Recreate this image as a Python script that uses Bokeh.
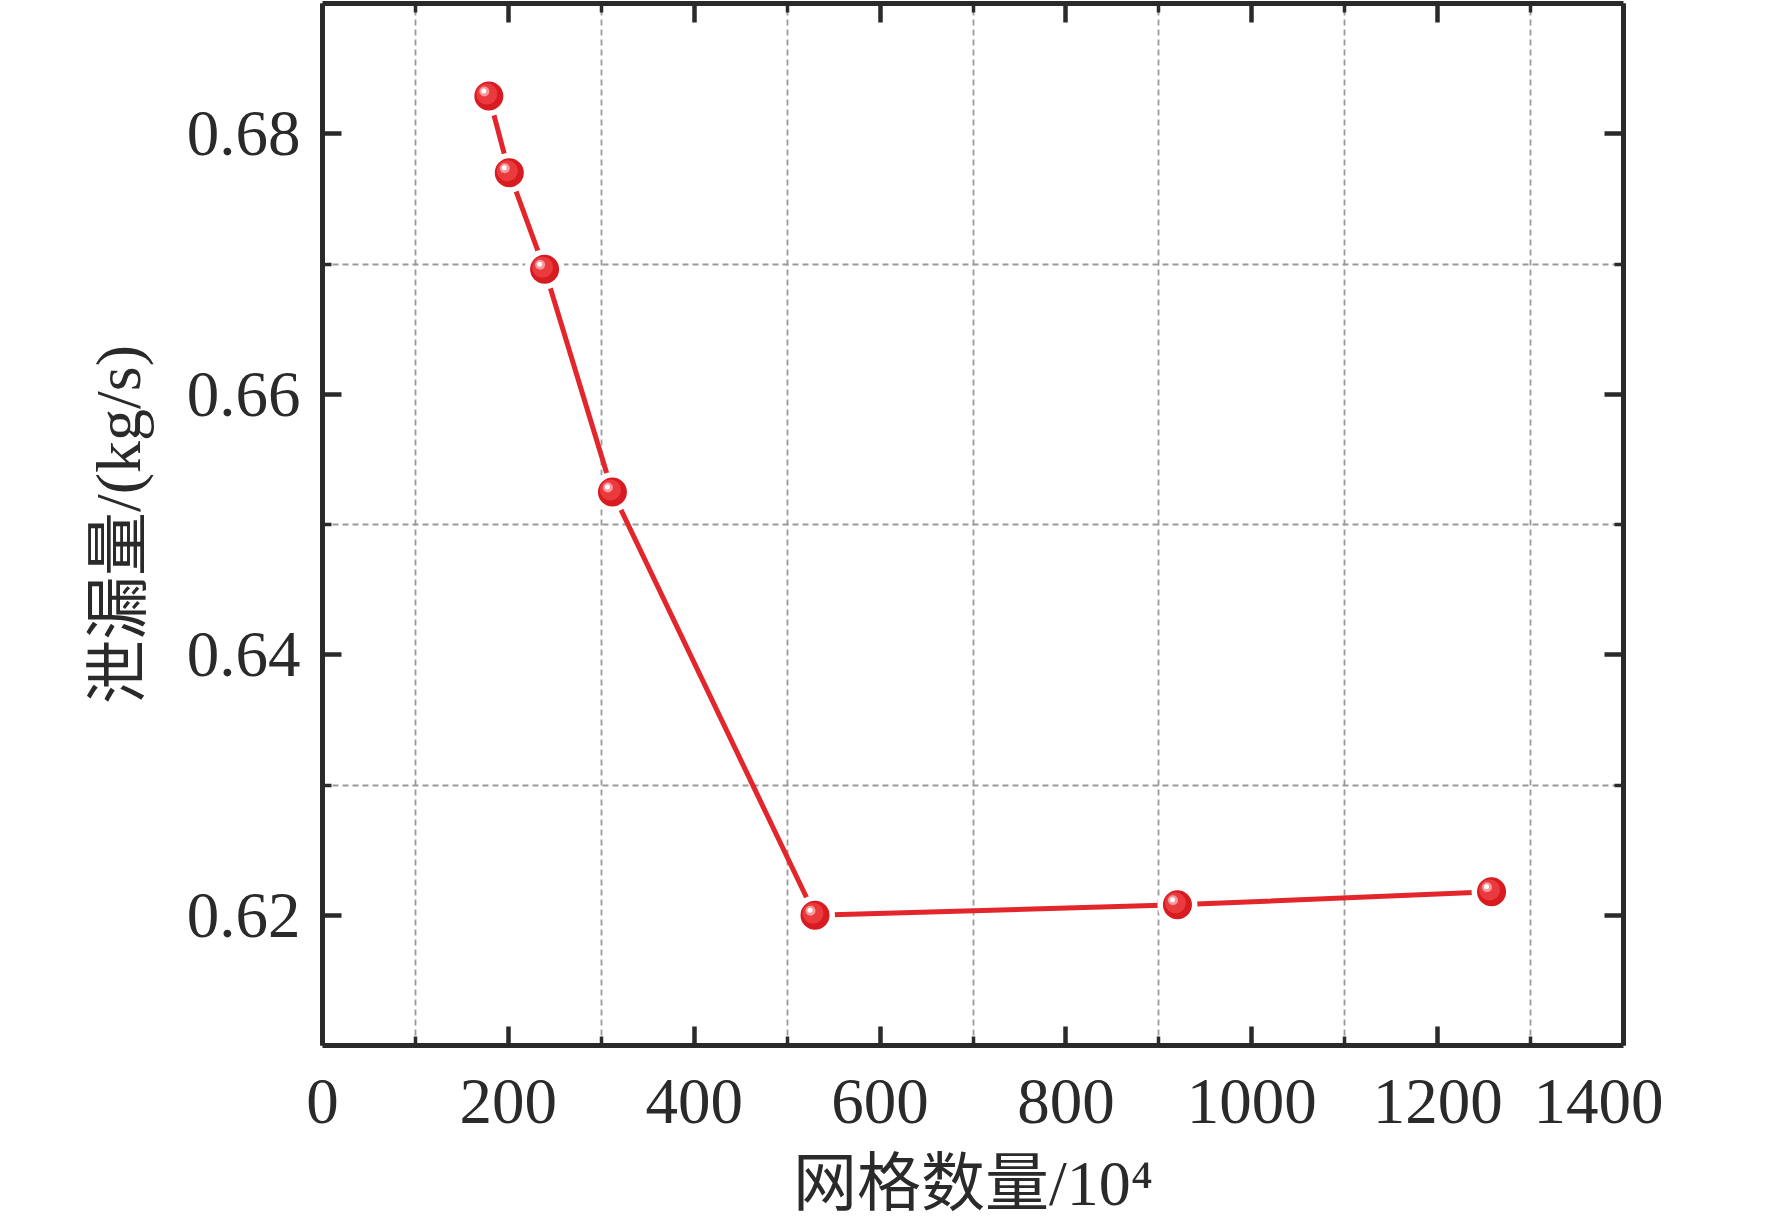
from bokeh.plotting import figure
from bokeh.models import Range1d, FixedTicker, LinearAxis, ColumnDataSource
from bokeh.embed import file_html
from bokeh.resources import INLINE

# ---- data ----
mesh_count = [179, 201, 239, 312, 530, 920, 1258]          # 网格数量 /10^4
leakage = [0.6829, 0.6770, 0.6696, 0.6525, 0.6200, 0.6208, 0.6218]  # kg/s

x_major = [0, 200, 400, 600, 800, 1000, 1200, 1400]
x_minor = [100, 300, 500, 700, 900, 1100, 1300]
y_major = [0.62, 0.64, 0.66, 0.68]
y_minor = [0.63, 0.65, 0.67]

x_title = "网格数量/10⁴"
y_title = "泄漏量/(kg/s)"

# ---- layout ----
X0, X1 = 0, 1400
Y0, Y1 = 0.61, 0.69
FW, FH = 1301, 1042
LATIN = "'Liberation Serif', 'Noto Sans CJK SC'"
DARK = "#2a2a2a"
RED = "#e3262b"

p = figure(x_range=Range1d(X0, X1), y_range=Range1d(Y0, Y1),
           frame_width=FW, frame_height=FH,
           min_border_left=322, min_border_right=40, min_border_top=3,
           min_border_bottom=150,
           output_backend="svg", toolbar_location=None,
           background_fill_color="white", border_fill_color="white")
p.outline_line_color = None

xt = FixedTicker(ticks=x_major, minor_ticks=x_minor)
yt = FixedTicker(ticks=y_major, minor_ticks=y_minor)

def style_axis(ax, labels=True):
    ax.axis_line_width = 5
    ax.axis_line_color = DARK
    ax.major_tick_line_width = 4.5
    ax.major_tick_line_color = DARK
    ax.minor_tick_line_width = 3.5
    ax.minor_tick_line_color = DARK
    ax.major_tick_in = 19
    ax.major_tick_out = 0
    ax.minor_tick_in = 9
    ax.minor_tick_out = 0
    if labels:
        ax.major_label_text_font = LATIN
        ax.major_label_text_font_size = "65px"
        ax.major_label_text_color = DARK
        ax.axis_label_text_font = LATIN
        ax.axis_label_text_font_size = "64px"
        ax.axis_label_text_font_style = "normal"
        ax.axis_label_text_color = DARK
    else:
        ax.major_label_text_font_size = "0px"
        ax.major_label_text_color = None
        ax.major_label_standoff = 0

xa = p.xaxis[0]
ya = p.yaxis[0]
xa.ticker = xt
ya.ticker = yt
style_axis(xa)
style_axis(ya)
xa.axis_label = x_title
ya.axis_label = y_title
xa.major_label_standoff = 34
ya.major_label_standoff = 22
xa.axis_label_standoff = 22
ya.axis_label_standoff = 30

top = LinearAxis(ticker=xt)
style_axis(top, labels=False)
p.add_layout(top, "above")
right = LinearAxis(ticker=yt)
style_axis(right, labels=False)
p.add_layout(right, "right")

for g, t in ((p.xgrid[0], xt), (p.ygrid[0], yt)):
    g.ticker = t
    g.grid_line_color = None
    g.minor_grid_line_color = "#9a9a9a"
    g.minor_grid_line_width = 1.8
    g.minor_grid_line_dash = "6 4"

src = ColumnDataSource(dict(x=mesh_count, y=leakage))
p.line("x", "y", source=src, line_color=RED, line_width=5)

# white halo to create the gap between line and markers
p.scatter("x", "y", source=src, size=40, fill_color="white", line_color=None)
p.scatter("x", "y", source=src, size=29, fill_color="#d81b21", line_color=None)

# glossy highlight (offsets converted from pixels to data units)
dxp = (X1 - X0) / FW
dyp = (Y1 - Y0) / FH
for off, sz, col in ((2.0, 21, "#eb3a3e"), (4.5, 10, "#f59a9c"), (5.0, 5, "#ffffff")):
    hx = [v - off * dxp for v in mesh_count]
    hy = [v + off * dyp for v in leakage]
    p.scatter(hx, hy, size=sz, fill_color=col, line_color=None)

open("out.html", "w").write(file_html(p, INLINE))
